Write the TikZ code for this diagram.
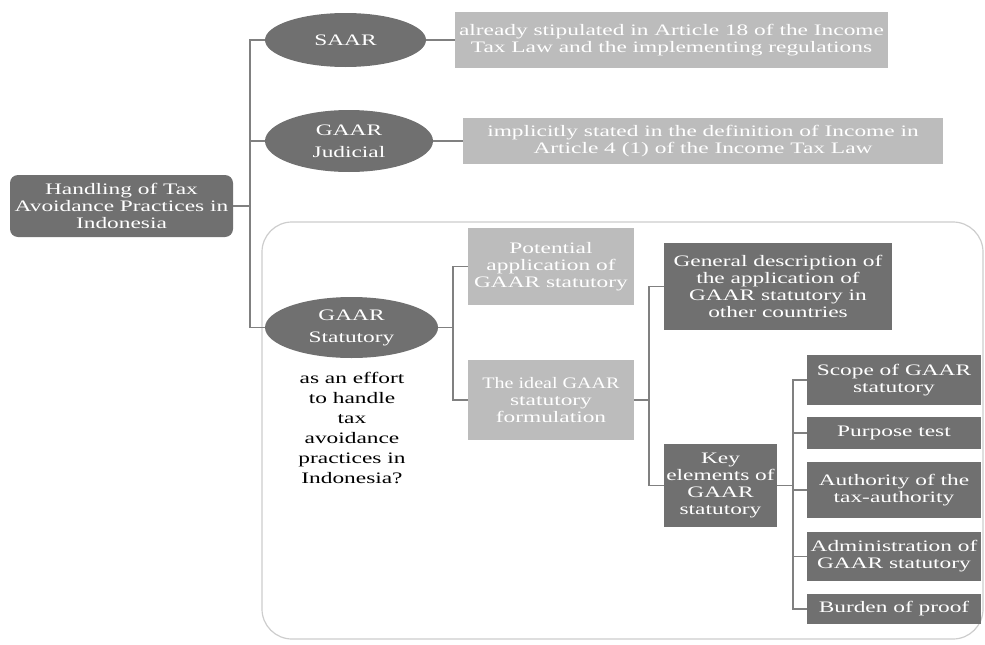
\documentclass[tikz,border=0pt]{standalone}
\usepackage{fontspec}
\setmainfont{Liberation Serif}[FakeStretch=1.46]
\usetikzlibrary{shapes.geometric}
\definecolor{darkgr}{RGB}{112,112,112}
\definecolor{lightgr}{RGB}{188,188,188}
\definecolor{linegr}{RGB}{128,128,128}
\definecolor{framegr}{RGB}{205,205,205}
\begin{document}
\begin{tikzpicture}[x=1pt, y=-1pt, font=\fontsize{16}{17}\selectfont,
  darkbox/.style={rectangle, fill=darkgr, text=white, align=center, inner sep=0pt},
  lightbox/.style={rectangle, fill=lightgr, text=white, align=center, inner sep=0pt},
  oval/.style={ellipse, fill=darkgr, text=white, align=center, inner sep=0pt, font=\fontsize{16}{22}\selectfont},
  link/.style={draw=linegr, line width=1.3pt}]
\useasboundingbox (0,0) rectangle (985,645);
% frame round the statutory branch
\draw[framegr, line width=1.2pt, rounded corners=30] (262,222) rectangle (983,639);
% root and first level
\node[darkbox, rounded corners=8, minimum width=223, minimum height=62] (root) at (121.5,206) {Handling of Tax\\Avoidance Practices in\\Indonesia};
\node[oval, minimum width=161, minimum height=54] (saar) at (345.5,40) {SAAR};
\node[oval, minimum width=168, minimum height=62] (judicial) at (349,141) {GAAR\\Judicial};
\node[oval, minimum width=173, minimum height=61] (statutory) at (351.5,327.5) {GAAR\\Statutory};
\node[lightbox, minimum width=433, minimum height=56] (saartext) at (671.5,40) {already stipulated in Article 18 of the Income\\Tax Law and the implementing regulations};
\node[lightbox, minimum width=480, minimum height=46] (judtext) at (703,141) {implicitly stated in the definition of Income in\\Article 4 (1) of the Income Tax Law};
\node[align=center, font=\fontsize{16}{20}\selectfont] (question) at (352,428) {as an effort\\to handle\\tax\\avoidance\\practices in\\Indonesia?};
% second level
\node[lightbox, minimum width=166, minimum height=77] (potential) at (551,266.5) {Potential\\application of\\GAAR statutory};
\node[lightbox, minimum width=166, minimum height=80] (ideal) at (551,400) {\scalebox{0.86}[1]{The ideal GAAR}\\statutory\\formulation};
\node[darkbox, minimum width=228, minimum height=87] (general) at (778,286.5) {General description of\\the application of\\GAAR statutory in\\other countries};
\node[darkbox, minimum width=113, minimum height=83] (key) at (720.5,485.5) {Key\\elements of\\GAAR\\statutory};
% key elements
\node[darkbox, minimum width=174, minimum height=50] (scope) at (894,380) {Scope of GAAR\\statutory};
\node[darkbox, minimum width=174, minimum height=32] (purpose) at (894,433) {Purpose test};
\node[darkbox, minimum width=174, minimum height=56] (authority) at (894,490) {Authority of the\\tax-authority};
\node[darkbox, minimum width=174, minimum height=49] (admin) at (894,556.5) {Administration of\\GAAR statutory};
\node[darkbox, minimum width=174, minimum height=30] (burden) at (894,609) {Burden of proof};
% connectors
\coordinate (b1) at (250,206);
\coordinate (b2) at (453,327.5);
\coordinate (b3) at (649,400);
\coordinate (b4) at (793,485.5);
\draw[link] (root.east) -- (b1);
\draw[link] (b1) |- (saar.west);
\draw[link] (b1) |- (judicial.west);
\draw[link] (b1) |- (statutory.west);
\draw[link] (saar.east) -- (saartext.west);
\draw[link] (judicial.east) -- (judtext.west);
\draw[link] (statutory.east) -- (b2);
\draw[link] (b2) |- (potential.west);
\draw[link] (b2) |- (ideal.west);
\draw[link] (ideal.east) -- (b3);
\draw[link] (b3) |- (general.west);
\draw[link] (b3) |- (key.west);
\draw[link] (key.east) -- (b4);
\foreach \n in {scope,purpose,authority,admin,burden}
  \draw[link] (b4) |- (\n.west);
\end{tikzpicture}
\end{document}
